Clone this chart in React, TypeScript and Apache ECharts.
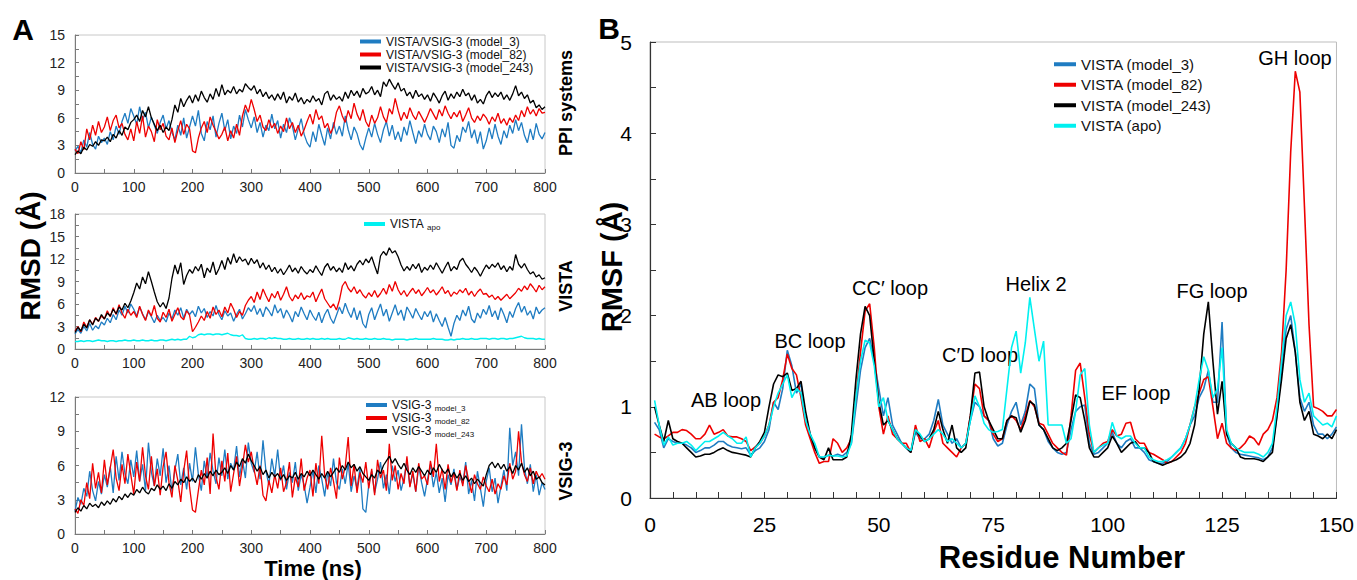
import React, { useEffect, useRef } from "react";
import * as echarts from "echarts";

// ---------- Panel A : RMSD time series (0..800 ns, every 5 ns) ----------
const TIME_NS = Array.from({ length: 161 }, (_, i) => i * 5);

// PPI systems
const ppiModel3 = [
  2.4, 2.9, 2.2, 3.6, 2.8, 4.4, 3.1, 2.6, 4.0, 3.3,
  3.8, 3.1, 4.5, 3.6, 5.1, 4.2, 5.6, 6.5, 5.4, 7.0,
  6.2, 5.3, 7.2, 5.8, 6.6, 4.9, 6.1, 5.2, 4.3, 5.5,
  6.3, 4.8, 5.7, 4.4, 3.6, 5.2, 4.1, 6.0, 3.8, 5.0,
  6.2, 5.1, 6.8, 4.3, 3.5, 5.6, 4.7, 6.2, 3.9, 5.4,
  6.5, 4.6, 5.8, 3.7, 5.1, 4.3, 6.3, 5.0, 6.9, 5.8,
  4.9, 6.1, 4.4, 5.5, 3.9, 5.2, 4.6, 6.4, 4.8, 5.7,
  3.8, 5.3, 4.4, 6.0, 5.1, 3.6, 4.8, 5.9, 4.2, 3.3,
  2.8, 4.5, 3.4, 5.3, 4.1, 3.0, 4.9, 3.7, 5.5, 4.2,
  5.1, 4.0, 6.2, 4.7, 3.6, 5.0, 4.3, 3.1, 2.5, 3.8,
  4.9, 3.9, 5.4, 4.2, 3.3, 4.7, 5.6, 4.0, 5.2, 3.6,
  4.5, 3.4, 5.0, 4.1, 5.7, 4.4, 3.2, 4.6, 3.9, 5.3,
  4.2, 3.6, 5.1, 4.5, 3.3, 4.8, 3.9, 5.5, 3.0, 2.7,
  4.1, 3.4, 5.0, 4.4, 5.6, 3.8, 4.7, 3.2, 4.5, 2.6,
  3.5, 4.9, 3.7, 5.3, 4.0, 3.1, 4.6, 3.8, 5.2, 4.3,
  5.8, 4.6, 5.5, 4.1, 3.3, 4.8, 3.6, 5.4, 4.2, 3.7,
  4.4,
];
const ppiModel82 = [
  2.6, 2.1, 3.4, 2.5, 4.8, 3.6, 5.2, 4.1, 5.6, 4.4,
  5.0, 6.1, 4.6, 5.7, 6.3, 4.9, 5.4, 4.2, 3.6, 4.8,
  3.5, 5.6, 4.3, 6.2, 3.9, 5.1, 4.5, 3.4, 5.8, 4.7,
  5.4, 4.0, 3.6, 4.9, 3.3, 4.6, 5.7, 4.2, 5.3, 4.8,
  2.4, 2.2, 3.8, 4.9, 5.6, 4.4, 6.1, 5.2, 4.5, 3.7,
  4.2, 5.0, 3.5, 4.6, 3.8, 5.3, 4.1, 6.2, 7.4, 6.6,
  8.0, 6.9, 5.6, 6.3, 5.0, 4.6, 5.8, 4.9, 5.4, 4.3,
  5.1, 4.5, 6.0, 4.8, 5.5, 4.4, 5.2, 4.0, 4.7, 5.6,
  6.4, 5.3, 6.9, 5.8, 6.2, 4.9, 5.4, 4.3, 5.0, 6.6,
  7.3, 6.2, 5.5, 6.8, 5.9, 7.6, 6.4, 5.7, 6.9, 5.6,
  5.0, 6.3, 5.4, 6.0, 7.2, 6.1, 5.5, 7.0, 6.4, 8.1,
  6.8, 5.7, 6.6, 5.9, 7.1, 6.3, 5.8, 6.7, 6.1, 5.5,
  6.2, 7.0, 6.4, 5.8, 6.9, 6.2, 7.3, 6.5, 5.9, 6.6,
  6.1, 6.8, 5.6, 6.3, 7.1, 6.0, 5.5, 6.2, 5.7, 6.4,
  6.0, 5.3, 6.1, 5.6, 6.5, 5.4, 5.9, 5.2, 6.0, 5.5,
  6.3, 5.7, 6.8, 6.1, 7.2, 6.4, 6.9, 6.2, 7.0, 6.5,
  6.6,
];
const ppiModel243 = [
  2.0, 2.4, 2.1, 2.8, 2.5, 3.1, 2.9, 3.4, 3.0, 3.6,
  3.5, 3.9, 3.4, 4.2, 3.8, 4.6, 4.1, 5.0, 4.7, 5.5,
  5.8, 6.3, 5.6, 6.8, 6.1, 7.2, 6.0, 5.3, 4.6, 5.2,
  4.4, 5.0, 4.6, 5.8, 7.4, 6.6, 8.1, 7.2, 7.9, 8.4,
  7.6, 8.5, 7.8, 8.9, 8.2, 7.7, 8.6, 8.0, 9.2, 8.3,
  9.6, 8.5, 9.0, 8.7, 9.4, 8.6, 9.1, 8.8, 9.7, 9.3,
  9.0, 9.5, 8.6, 9.1, 8.3, 8.8, 8.1, 8.5, 7.9, 8.6,
  8.0, 8.8, 7.6, 8.3, 7.9, 8.7, 7.7, 8.2, 7.5, 8.0,
  7.7, 8.4, 7.8, 8.1, 7.4, 8.6, 8.9, 7.9, 8.5, 8.0,
  8.3, 7.8, 8.8, 8.1, 9.0, 8.4, 8.9, 8.2, 9.2, 8.6,
  8.8, 9.4, 8.5, 9.0, 8.3, 9.9, 9.4, 10.2, 9.6, 9.1,
  9.8, 8.9, 9.2, 8.4, 8.8, 8.1, 9.0, 8.3, 8.6, 8.0,
  8.5, 7.8, 8.7, 8.2, 7.6, 8.4, 8.9, 7.9, 8.6, 8.1,
  8.8, 8.3, 9.1, 8.4, 8.7, 7.9, 8.5, 7.6, 8.0, 7.5,
  8.4, 8.9, 8.2, 8.7, 8.3, 8.8, 8.0, 8.5, 7.9, 8.6,
  9.5, 8.4, 8.8, 8.1, 8.5, 7.6, 7.9, 7.1, 7.4, 6.9,
  7.2,
];

// VISTA
const vistaModel3 = [
  2.0, 2.6, 2.1, 3.0, 2.4, 3.4, 2.5, 3.1, 2.7, 3.6,
  3.2, 4.1, 3.5, 4.6, 3.9, 5.2, 4.5, 5.7, 4.8, 6.0,
  5.3, 4.4, 5.6, 4.7, 3.9, 5.0, 4.3, 3.5, 4.5, 3.8,
  4.2, 3.6, 4.8, 4.0, 5.2, 4.5, 5.5, 4.1, 5.3, 4.6,
  5.1, 4.3, 5.7, 4.8, 5.4, 4.2, 5.0, 4.4, 5.8, 4.6,
  3.9, 5.1, 4.4, 4.8, 3.7, 4.6, 5.3, 4.0, 4.7, 5.5,
  5.0, 5.8, 4.6, 5.4, 4.3, 5.6, 5.1, 4.4, 5.9, 4.8,
  5.4, 4.1, 5.2, 4.5, 3.6, 5.0, 4.3, 5.6, 4.7, 3.9,
  5.2, 4.4, 3.8, 4.9, 3.5, 4.6, 5.3, 4.1, 3.4, 4.5,
  5.6, 4.7, 6.1, 5.0, 4.2, 5.5, 3.9, 5.1, 3.4, 2.8,
  4.6, 5.5, 3.9, 5.0, 6.0, 4.4, 5.3, 3.7, 4.8, 5.9,
  4.5, 5.2, 3.8, 5.6, 4.9, 4.1, 5.4, 4.6, 3.9, 5.0,
  4.3, 5.1, 3.6, 4.7, 3.8, 3.0, 4.2, 2.9, 1.7, 3.4,
  4.5, 3.8, 5.2, 4.4, 5.7, 4.0, 3.5, 4.8, 4.1, 5.3,
  4.6, 5.8, 4.3, 5.1, 3.9, 5.5, 4.6, 3.5, 5.0, 4.2,
  5.4, 6.2, 4.9, 5.7, 4.5, 5.1, 4.0, 5.6, 4.7, 5.2,
  5.5,
];
const vistaModel82 = [
  2.4, 3.0, 2.3, 3.6, 2.9, 3.9, 3.3, 4.2, 3.7, 4.4,
  4.0, 5.1, 4.3, 5.5, 4.6, 5.9, 4.8, 4.1, 5.3, 4.5,
  5.0, 4.2, 5.7, 4.6, 3.8, 5.2, 4.4, 5.8, 4.1, 3.6,
  4.9, 4.2, 5.3, 3.7, 4.6, 5.5, 4.3, 3.9, 5.1, 4.5,
  2.3, 2.9, 3.6, 4.4, 3.8, 5.0, 4.1, 5.6, 4.6, 5.2,
  4.3, 5.6, 4.8, 6.1, 5.3, 4.2, 5.0, 4.5, 5.8, 6.5,
  7.0, 6.2, 7.6, 6.6, 8.0, 7.1, 6.3, 7.4, 6.8, 7.7,
  6.5, 7.3, 8.3, 7.0, 6.4, 7.2, 6.7, 7.5, 6.6, 7.1,
  6.9, 7.6, 6.3, 7.2, 8.0, 6.7, 6.1, 5.5, 6.0, 5.2,
  6.5, 8.4, 9.0, 8.1, 7.6, 8.3, 7.4, 7.9, 7.2, 6.8,
  7.5, 7.0, 7.8, 6.9, 7.4, 8.1, 7.3, 8.6, 7.7, 9.0,
  7.9, 7.2, 7.8, 7.0, 7.6, 8.1, 7.4, 7.9, 7.1, 7.6,
  8.2, 7.5, 7.9, 7.2, 7.7, 8.3, 7.4, 7.8, 7.0, 7.6,
  7.3, 7.9, 7.5, 8.1, 7.2, 7.7, 7.0, 7.6, 8.0, 7.3,
  7.4, 6.9, 7.2, 6.6, 7.0, 6.5, 6.9, 7.3, 6.7, 7.1,
  7.5, 8.1, 7.7, 8.4, 7.9, 8.7, 8.2, 7.6, 8.5, 7.9,
  8.3,
];
const vistaModel243 = [
  2.2, 2.9, 2.4, 3.3, 2.8, 3.9, 3.2, 4.1, 3.7, 4.6,
  4.0, 4.8, 4.4, 5.3, 4.7, 5.6, 5.2, 6.1, 5.5, 6.4,
  7.5, 8.8, 8.0, 9.6, 8.7, 10.3, 9.0, 7.6, 6.3, 5.6,
  6.2, 5.4, 6.8, 9.4, 11.2, 10.0, 11.5, 8.6, 9.8, 10.6,
  10.1, 11.0, 10.4, 11.3, 9.5, 10.8, 10.2, 11.6, 9.9, 10.7,
  11.8, 10.6, 12.2, 11.3, 12.7, 11.5, 12.3, 11.7, 12.0, 11.2,
  12.1, 11.4, 11.9, 10.8, 11.5, 10.6, 11.2, 10.3, 10.9, 10.1,
  10.7, 9.9, 10.5, 11.2, 10.3, 10.8, 10.1, 11.0, 10.4, 10.0,
  10.6, 10.2, 11.1, 10.4, 9.8, 10.9, 11.4, 10.5, 11.0, 10.3,
  10.8, 10.2, 11.5, 10.6, 11.1, 10.4, 11.3, 11.8, 11.2, 12.0,
  11.5, 12.3, 11.1, 10.0, 12.4, 13.0, 12.5, 13.5, 12.8, 13.1,
  12.3, 11.2, 10.4, 11.0, 10.5, 11.3, 10.7, 11.4, 10.2, 10.9,
  10.5, 11.2, 10.6, 11.5, 10.8, 10.1, 10.9, 11.6, 10.4, 11.0,
  10.6, 11.7, 12.1, 11.3, 10.8, 10.2, 10.9, 10.4, 9.7, 10.5,
  11.2, 10.7, 11.3, 10.9, 11.5, 10.6, 11.1, 10.3, 11.0, 10.5,
  12.6, 11.3, 10.8, 11.4, 10.6, 10.0, 10.3, 9.6, 9.9, 9.3,
  9.5,
];
const vistaApo = [
  1.0, 1.0, 1.1, 1.0, 1.1, 1.1, 1.0, 1.1, 1.2, 1.1,
  1.1, 1.0, 1.1, 1.1, 1.0, 1.1, 1.1, 1.2, 1.1, 1.1,
  1.2, 1.1, 1.1, 1.2, 1.1, 1.1, 1.2, 1.1, 1.1, 1.2,
  1.2, 1.1, 1.2, 1.3, 1.2, 1.3, 1.2, 1.3, 1.3, 1.7,
  1.5, 1.6, 1.9, 2.0, 1.9, 2.0, 2.0, 1.9, 2.0, 2.0,
  1.9, 2.0, 2.1, 1.9, 1.8, 1.8, 1.7, 1.9, 1.4, 1.3,
  1.3, 1.4, 1.3, 1.4, 1.4, 1.3, 1.5, 1.4, 1.5, 1.4,
  1.4, 1.3, 1.3, 1.4, 1.3, 1.3, 1.4, 1.3, 1.3, 1.4,
  1.3, 1.4, 1.3, 1.3, 1.4, 1.3, 1.4, 1.3, 1.3, 1.3,
  1.4, 1.3, 1.3, 1.5, 1.4, 1.3, 1.4, 1.3, 1.3, 1.4,
  1.3, 1.3, 1.4, 1.3, 1.3, 1.4, 1.3, 1.3, 1.2, 1.3,
  1.3, 1.3, 1.3, 1.2, 1.3, 1.3, 1.4, 1.3, 1.3, 1.3,
  1.3, 1.3, 1.4, 1.3, 1.3, 1.3, 1.2, 1.2, 1.3, 1.2,
  1.3, 1.3, 1.4, 1.3, 1.3, 1.4, 1.3, 1.3, 1.4, 1.4,
  1.4, 1.3, 1.4, 1.4, 1.3, 1.4, 1.4, 1.3, 1.4, 1.4,
  1.5, 1.6, 1.7, 1.5, 1.4, 1.4, 1.4, 1.3, 1.4, 1.3,
  1.3,
];

// VSIG-3
const vsigModel3 = [
  2.0, 3.2, 2.6, 4.0, 3.3, 5.5, 3.8, 2.9, 4.6, 3.5,
  5.2, 4.1, 5.9, 3.6, 6.8, 4.7, 7.2, 5.3, 4.4, 6.5,
  5.0, 7.3, 4.6, 6.1, 3.8, 8.0, 5.4, 4.2, 6.6, 5.1,
  7.5, 4.5, 6.0, 3.7, 5.6, 7.0, 4.3, 5.8, 3.9, 6.2,
  4.6, 7.6, 5.2, 3.8, 6.4, 4.9, 7.1, 5.5, 4.4, 6.7,
  5.1, 7.4, 4.8, 6.2, 5.6, 7.7, 5.0, 6.5, 4.9, 8.0,
  6.2, 5.4, 7.2, 4.8, 8.2, 5.5, 4.3, 6.6, 5.1, 7.4,
  4.7, 6.0, 3.9, 5.4, 4.5, 6.3, 3.8, 5.2, 4.3, 2.7,
  4.1, 5.6, 3.6, 6.0, 4.8, 3.3, 5.4, 4.2, 6.6, 4.5,
  3.9, 5.7, 4.4, 6.2, 3.7, 5.1, 4.0, 5.8, 2.2, 1.9,
  4.3, 5.5, 3.6, 4.8, 6.3, 4.0, 5.2, 3.5, 6.0, 4.6,
  5.6, 3.8, 4.9, 6.4, 4.2, 5.3, 3.7, 5.9, 4.5, 3.3,
  4.8, 6.1, 4.1, 5.4, 3.6, 4.9, 2.8, 5.2, 4.3, 5.7,
  3.9, 5.0, 4.4, 6.3, 3.5, 4.7, 2.9, 5.5, 4.0, 2.4,
  4.6, 5.8, 3.7, 4.9, 2.7, 4.2, 5.6, 3.8, 9.3, 6.0,
  7.2, 5.1, 9.6, 5.8, 4.4, 6.1, 3.7, 5.2, 3.4, 4.5,
  3.9,
];
const vsigModel82 = [
  2.2, 1.8, 3.0, 2.5, 4.5, 3.1, 6.2, 4.0, 5.4, 3.6,
  6.5, 4.3, 5.8, 7.4, 4.9, 3.8, 6.1, 4.4, 7.0, 5.2,
  3.5, 6.3, 4.6, 7.6, 5.1, 3.9, 6.8, 4.2, 5.7, 3.4,
  5.9, 7.2, 4.5, 3.2, 6.0, 4.7, 2.8, 5.5, 7.3, 4.1,
  2.1, 1.9, 3.8, 5.6, 4.3, 6.7, 3.5, 8.8, 5.0, 3.9,
  6.4, 4.6, 7.1, 3.7, 5.3, 6.8, 4.2, 5.9, 7.8, 6.3,
  7.2, 5.6, 4.3, 6.0, 3.4, 2.9, 4.7, 3.6, 5.2, 4.0,
  5.8, 3.7, 4.5, 6.3, 3.2, 5.0, 4.1, 6.6, 3.8, 4.9,
  5.6, 3.3, 6.2, 4.4, 8.6, 5.1, 3.9, 5.8, 4.6, 3.1,
  6.7, 4.8, 5.9, 8.5, 4.2, 6.1, 3.6, 5.4, 4.5, 6.3,
  4.0, 5.7, 3.4, 6.5, 4.9, 5.6, 3.8, 7.9, 4.7, 6.0,
  3.9, 5.3, 4.4, 6.8, 4.1, 5.5, 3.7, 6.2, 4.8, 5.1,
  4.3, 6.4, 5.0, 7.9, 4.6, 5.7, 3.9, 6.1, 4.5, 5.3,
  3.8, 5.6, 4.2, 6.0, 4.7, 3.6, 5.2, 4.4, 3.9, 5.0,
  4.2, 3.7, 4.8, 3.5, 4.4, 3.9, 5.1, 4.3, 6.2, 4.8,
  5.5, 9.0, 6.3, 5.2, 4.6, 5.8, 4.4, 5.5, 4.9, 5.3,
  4.8,
];
const vsigModel243 = [
  1.9, 2.3, 2.0, 2.5, 2.2, 2.7, 2.4, 2.6, 2.3, 2.8,
  2.5, 2.9, 2.6, 3.1, 2.8, 3.3, 3.0, 3.5, 3.2, 3.6,
  3.4, 3.9, 3.6, 4.1, 3.7, 3.5, 4.0, 3.8, 4.3, 3.9,
  4.2, 3.8, 4.4, 4.0, 4.6, 4.3, 4.8, 4.5, 5.0, 4.6,
  4.9, 4.5, 5.2, 4.8, 5.3, 4.9, 5.5, 5.1, 5.6, 5.2,
  5.4, 5.8, 5.3, 6.0, 5.6, 6.3, 5.9, 6.6, 6.2, 7.0,
  6.4, 6.0, 5.5, 5.9, 5.2, 5.6, 4.9, 5.4, 5.0, 5.3,
  4.8, 5.2, 4.7, 5.1, 4.9, 5.4, 4.8, 5.3, 5.0, 5.5,
  5.1, 5.6, 5.2, 4.8, 5.3, 4.9, 5.5, 5.0, 5.4, 5.8,
  5.4, 6.0, 5.6, 6.3, 5.8, 6.1, 5.5, 5.9, 5.3, 5.0,
  4.7, 5.2, 4.9, 5.6, 5.3, 6.0, 6.4, 6.8, 6.2, 6.6,
  6.1, 5.7, 6.2, 5.6, 5.2, 5.8, 5.4, 5.9, 5.5, 5.1,
  5.6, 5.2, 5.8, 5.4, 6.1, 5.6, 5.3, 5.7, 5.0, 5.4,
  4.9, 5.3, 4.7, 5.1, 4.6, 4.9, 4.4, 4.8, 4.5, 4.2,
  5.2, 6.0, 6.3, 5.8, 6.2, 5.7, 6.1, 5.5, 5.9, 5.3,
  6.0, 5.6, 6.2, 5.4, 5.8, 5.1, 5.5, 4.8, 5.0, 4.5,
  4.3,
];

// ---------- Panel B : RMSF per residue (1..150) ----------
const RESIDUES = Array.from({ length: 150 }, (_, i) => i + 1);
const rmsfModel3 = [
  0.83, 0.75, 0.55, 0.65, 0.62, 0.6, 0.6, 0.58, 0.55, 0.5,
  0.52, 0.55, 0.55, 0.58, 0.62, 0.62, 0.58, 0.56, 0.55, 0.54,
  0.55, 0.47, 0.52, 0.55, 0.62, 0.75, 1.05, 0.97, 1.2, 1.62,
  1.45, 1.15, 1.25, 0.85, 0.7, 0.55, 0.45, 0.44, 0.47, 0.46,
  0.48, 0.46, 0.5, 0.6, 1.0, 1.4, 1.65, 1.75, 1.5, 1.2,
  0.9, 1.1, 0.8, 0.7, 0.6, 0.55, 0.5, 0.72, 0.65, 0.65,
  0.7, 0.85, 1.08, 0.8, 0.7, 0.6, 0.65, 0.55, 0.6, 0.85,
  1.05, 1.0, 0.9, 0.85, 0.65, 0.57, 0.6, 0.8, 0.95, 1.05,
  0.8, 0.95, 1.25, 1.2, 0.8, 0.75, 0.62, 0.55, 0.5, 0.48,
  0.5, 0.75, 0.95, 1.0, 1.02, 0.6, 0.48, 0.5, 0.55, 0.6,
  0.72, 0.6, 0.55, 0.62, 0.65, 0.55, 0.55, 0.5, 0.42, 0.4,
  0.38, 0.38, 0.4, 0.45, 0.5, 0.55, 0.65, 0.8, 0.9, 1.1,
  1.2, 1.4, 1.05, 1.05, 1.93, 0.7, 0.55, 0.5, 0.48, 0.47,
  0.46, 0.45, 0.44, 0.42, 0.45, 0.55, 0.9, 1.4, 1.85, 2.0,
  1.6, 1.1, 0.95, 1.05, 0.8, 0.7, 0.7, 0.65, 0.7, 0.78,
];
const rmsfModel82 = [
  0.7, 0.67, 0.65, 0.68, 0.72, 0.72, 0.75, 0.74, 0.7, 0.65,
  0.65, 0.7, 0.8, 0.7, 0.72, 0.75, 0.68, 0.67, 0.67, 0.65,
  0.62, 0.52, 0.56, 0.6, 0.68, 0.8, 1.05, 1.1, 1.3, 1.58,
  1.42, 1.35, 1.1, 0.8, 0.65, 0.5, 0.38, 0.4, 0.4, 0.65,
  0.6, 0.5, 0.55, 0.65, 1.1, 1.6, 2.05, 2.13, 1.65, 1.0,
  0.7, 0.9, 0.7, 0.65, 0.6, 0.6, 0.5, 0.8, 0.62, 0.65,
  0.55, 0.72, 0.85, 0.6, 0.55, 0.5, 0.45, 0.55, 0.6, 0.9,
  1.25, 1.2, 0.9, 0.85, 0.7, 0.62, 0.65, 0.85, 0.9, 0.85,
  0.75, 0.9, 1.07, 1.0, 0.82, 0.8, 0.7, 0.6, 0.55, 0.5,
  0.47, 0.9, 1.4, 1.48, 1.1, 0.7, 0.5, 0.55, 0.6, 0.62,
  0.75, 0.68, 0.7, 0.82, 0.83, 0.65, 0.6, 0.6, 0.5, 0.48,
  0.45, 0.42, 0.38, 0.4, 0.45, 0.5, 0.6, 0.8, 1.0, 1.15,
  1.3, 1.33, 1.0, 0.65, 0.82, 0.6, 0.55, 0.52, 0.55, 0.6,
  0.68, 0.65, 0.58, 0.7, 0.75, 0.85, 1.1, 1.6, 2.5, 3.8,
  4.68, 4.45, 3.2, 1.9, 1.0, 0.98, 0.95, 0.9, 0.9, 0.97,
];
const rmsfModel243 = [
  1.0, 0.8, 0.62, 0.85, 0.65, 0.62, 0.6, 0.55, 0.5, 0.45,
  0.46, 0.48, 0.48, 0.5, 0.53, 0.55, 0.52, 0.5, 0.49, 0.48,
  0.47, 0.45, 0.55, 0.62, 0.72, 1.0, 1.25, 1.35, 1.33, 1.37,
  1.18, 1.2, 1.28, 0.95, 0.7, 0.55, 0.45, 0.42, 0.55, 0.42,
  0.42, 0.42, 0.45, 0.7, 1.3, 1.8, 2.1, 2.0, 1.5, 1.05,
  0.8, 0.85, 0.75, 0.65, 0.6, 0.55, 0.5, 0.75, 0.68, 0.62,
  0.65, 0.75, 0.95, 0.75, 0.6, 0.8, 0.55, 0.5, 0.55, 0.9,
  1.37, 1.38, 1.0, 0.85, 0.75, 0.65, 0.65, 0.85, 0.9, 0.88,
  0.72, 0.85, 1.06, 1.02, 0.8, 0.75, 0.65, 0.55, 0.52, 0.55,
  0.6, 0.85, 1.13, 1.1, 0.85, 0.55, 0.45, 0.45, 0.5, 0.55,
  0.68, 0.6, 0.5, 0.55, 0.6, 0.62, 0.55, 0.55, 0.5, 0.4,
  0.38, 0.36, 0.38, 0.4, 0.42, 0.45, 0.5, 0.6, 0.8, 1.2,
  1.8, 2.15, 1.5, 0.92, 1.28, 0.7, 0.6, 0.55, 0.45, 0.43,
  0.43, 0.43, 0.42, 0.4, 0.45, 0.5, 0.9, 1.3, 1.75, 1.9,
  1.6, 1.05, 0.85, 0.95, 0.7, 0.68, 0.65, 0.7, 0.65, 0.75,
];
const rmsfApo = [
  1.07, 0.8, 0.58, 0.67, 0.58, 0.6, 0.6, 0.62, 0.58, 0.52,
  0.57, 0.62, 0.62, 0.65, 0.68, 0.72, 0.68, 0.65, 0.6, 0.6,
  0.67, 0.45, 0.55, 0.6, 0.68, 0.8, 1.0, 1.15, 1.25, 1.35,
  1.1, 1.2, 1.15, 0.85, 0.7, 0.6, 0.45, 0.45, 0.47, 0.46,
  0.46, 0.45, 0.46, 0.6, 1.1, 1.5, 1.73, 1.7, 1.45, 1.0,
  1.1, 0.85, 0.75, 0.65, 0.6, 0.55, 0.52, 0.75, 0.7, 0.62,
  0.65, 0.7, 0.75, 0.7, 0.62, 0.65, 0.6, 0.55, 0.6, 0.85,
  1.12, 1.0, 0.82, 0.75, 0.72, 0.73, 0.75, 1.2, 1.65, 1.83,
  1.37, 1.7, 2.2, 1.85, 1.5, 1.72, 0.8, 0.8, 0.8, 0.8,
  0.6, 0.65, 0.95, 1.35, 1.42, 0.8, 0.5, 0.55, 0.58, 0.6,
  0.83, 0.68, 0.65, 0.68, 0.68, 0.6, 0.55, 0.55, 0.45, 0.42,
  0.4, 0.4, 0.42, 0.45, 0.5, 0.55, 0.65, 0.8, 1.0, 1.3,
  1.55, 1.4, 1.1, 1.2, 1.65, 0.75, 0.6, 0.55, 0.52, 0.5,
  0.5, 0.5, 0.48, 0.45, 0.5, 0.6, 1.0, 1.5, 2.0, 2.15,
  1.9, 1.3, 1.05, 1.15, 0.9, 0.85, 0.8, 0.82, 0.78, 0.9,
];

const LOOP_LABELS = ["AB loop", "BC loop", "CC\u2032 loop", "C\u2032D loop", "Helix 2", "EF loop", "FG loop", "GH loop"];
const PANEL_TITLES = ["PPI systems", "VISTA", "VSIG-3"];

const BLUE = "#1f7cc2";
const RED = "#ee0000";
const BLACK = "#000000";
const CYAN = "#00f0f0";
const FONT = "'Liberation Sans', Arial, Helvetica, sans-serif";

const pairs = (xs: number[], ys: number[]) => ys.map((v, i) => [xs[i], v]);

function aAxes(gi: number, ymax: number) {
  const x = {
    type: "value", gridIndex: gi, min: 0, max: 800, interval: 100,
    axisLine: { show: true, lineStyle: { color: "#7a7a7a", width: 1 } },
    axisTick: { show: true, inside: true, length: 4, lineStyle: { color: "#7a7a7a" } },
    minorTick: { show: true, splitNumber: 2, length: 4, lineStyle: { color: "#7a7a7a" } },
    splitLine: { show: false },
    axisLabel: { fontSize: 14, color: "#222", margin: 7, fontFamily: FONT },
  };
  const y = {
    type: "value", gridIndex: gi, min: 0, max: ymax, interval: 3,
    axisLine: { show: true, lineStyle: { color: "#7a7a7a", width: 1 } },
    axisTick: { show: true, inside: true, length: 4, lineStyle: { color: "#7a7a7a" } },
    minorTick: { show: true, splitNumber: 2, length: 4, lineStyle: { color: "#7a7a7a" } },
    splitLine: { show: false },
    axisLabel: { fontSize: 14, color: "#222", margin: 10, fontFamily: FONT },
  };
  return { x, y };
}

function lineA(name: string, gi: number, data: number[], color: string, z: number) {
  return {
    type: "line", name, xAxisIndex: gi, yAxisIndex: gi,
    data: pairs(TIME_NS, data), showSymbol: false, symbol: "none",
    color, lineStyle: { color, width: 1.3 }, z, silent: true,
  };
}
function lineB(name: string, data: number[], color: string, z: number) {
  return {
    type: "line", name, xAxisIndex: 3, yAxisIndex: 3,
    data: pairs(RESIDUES, data), showSymbol: false, symbol: "none",
    color, lineStyle: { color, width: 1.6 }, z, silent: true,
  };
}

function txt(text: string, x: number, y: number, font: string, rotation = 0) {
  return {
    type: "text", x, y, rotation, silent: true,
    style: {
      text, font, fill: "#000",
      textAlign: "center", textVerticalAlign: "middle",
      align: "center", verticalAlign: "middle",
    },
  };
}

export default function App() {
  const ref = useRef<HTMLDivElement>(null);
  useEffect(() => {
    if (!ref.current) return;
    const chart = echarts.init(ref.current, null, { renderer: "svg" });
    const a0 = aAxes(0, 15);
    const a1 = aAxes(1, 18);
    const a2 = aAxes(2, 12);
    const subRich = {
      m: { fontSize: 12, lineHeight: 14, fontFamily: FONT, color: "#111" },
      s: { fontSize: 8, lineHeight: 6, verticalAlign: "bottom", fontFamily: FONT, color: "#111" },
    };
    const subFmt = (name: string) => {
      const p = name.split(" ");
      return `{m|${p[0]}} {s|${p[1]}}`;
    };
    const legendBase = {
      orient: "vertical", icon: "rect", itemWidth: 21, itemHeight: 4, itemGap: 0,
      selectedMode: false, padding: 0,
    };
    const ann = "20px " + FONT;
    const option: any = {
      animation: false,
      backgroundColor: "#ffffff",
      grid: [
        { left: 75, top: 35, width: 470, height: 138, show: true, borderColor: "#c8c8c8", borderWidth: 1 },
        { left: 75, top: 214, width: 470, height: 135, show: true, borderColor: "#c8c8c8", borderWidth: 1 },
        { left: 75, top: 397, width: 470, height: 137, show: true, borderColor: "#c8c8c8", borderWidth: 1 },
        { left: 650, top: 42, width: 687, height: 456, show: true, borderColor: "#bdbdbd", borderWidth: 1 },
      ],
      xAxis: [
        a0.x, a1.x, a2.x,
        {
          type: "value", gridIndex: 3, min: 0, max: 150, interval: 25,
          axisLine: { show: true, lineStyle: { color: "#333", width: 1.2 } },
          axisTick: { show: true, inside: true, length: 6, lineStyle: { color: "#333" } },
          minorTick: { show: true, splitNumber: 5, length: 6, lineStyle: { color: "#333" } },
          splitLine: { show: false },
          axisLabel: { fontSize: 21, color: "#000", margin: 16, fontFamily: FONT },
        },
      ],
      yAxis: [
        a0.y, a1.y, a2.y,
        {
          type: "value", gridIndex: 3, min: 0, max: 5, interval: 1,
          axisLine: { show: true, lineStyle: { color: "#333", width: 1.2 } },
          axisTick: { show: true, inside: true, length: 6, lineStyle: { color: "#333" } },
          minorTick: { show: true, splitNumber: 2, length: 6, lineStyle: { color: "#333" } },
          splitLine: { show: false },
          axisLabel: { fontSize: 21, color: "#000", margin: 18, fontFamily: FONT },
        },
      ],
      legend: [
        {
          ...legendBase, left: 360, top: 35,
          data: ["VISTA/VSIG-3 (model_3)", "VISTA/VSIG-3 (model_82)", "VISTA/VSIG-3 (model_243)"],
          textStyle: { fontSize: 12, lineHeight: 13, color: "#111", fontFamily: FONT },
        },
        {
          ...legendBase, left: 364, top: 218,
          data: ["VISTA apo"], formatter: subFmt,
          textStyle: { rich: subRich },
        },
        {
          ...legendBase, left: 366, top: 399,
          data: ["VSIG-3 model_3", "VSIG-3 model_82", "VSIG-3 model_243"], formatter: subFmt,
          textStyle: { rich: subRich },
        },
        {
          ...legendBase, left: 1054, top: 54, itemWidth: 22,
          data: ["VISTA (model_3)", "VISTA (model_82)", "VISTA (model_243)", "VISTA (apo)"],
          textStyle: { fontSize: 15, lineHeight: 20.5, color: "#111", fontFamily: FONT },
        },
      ],
      series: [
        lineA("VISTA/VSIG-3 (model_3)", 0, ppiModel3, BLUE, 2),
        lineA("VISTA/VSIG-3 (model_82)", 0, ppiModel82, RED, 3),
        lineA("VISTA/VSIG-3 (model_243)", 0, ppiModel243, BLACK, 4),
        lineA("VISTA RMSD model_3", 1, vistaModel3, BLUE, 2),
        lineA("VISTA RMSD model_82", 1, vistaModel82, RED, 3),
        lineA("VISTA RMSD model_243", 1, vistaModel243, BLACK, 4),
        lineA("VISTA apo", 1, vistaApo, CYAN, 5),
        lineA("VSIG-3 model_3", 2, vsigModel3, BLUE, 2),
        lineA("VSIG-3 model_82", 2, vsigModel82, RED, 3),
        lineA("VSIG-3 model_243", 2, vsigModel243, BLACK, 4),
        lineB("VISTA (model_3)", rmsfModel3, BLUE, 2),
        lineB("VISTA (model_82)", rmsfModel82, RED, 3),
        lineB("VISTA (model_243)", rmsfModel243, BLACK, 4),
        lineB("VISTA (apo)", rmsfApo, CYAN, 5),
      ],
      graphic: [
        txt("A", 23, 29, "bold 30px " + FONT),
        txt("B", 609, 28, "bold 30px " + FONT),
        txt("RMSD (\u00c5)", 30, 256, "bold 28px " + FONT, Math.PI / 2),
        txt("RMSF (\u00c5)", 612, 267, "bold 29px " + FONT, Math.PI / 2),
        txt("Time (ns)", 313, 568, "bold 22px " + FONT),
        txt("Residue Number", 1062, 557, "bold 31px " + FONT),
        txt(PANEL_TITLES[0], 566, 103, "bold 18px " + FONT, Math.PI / 2),
        txt(PANEL_TITLES[1], 566, 286, "bold 18px " + FONT, Math.PI / 2),
        txt(PANEL_TITLES[2], 566, 471, "bold 18px " + FONT, Math.PI / 2),
        txt(LOOP_LABELS[0], 726, 400, ann),
        txt(LOOP_LABELS[1], 810, 341, ann),
        txt(LOOP_LABELS[2], 890, 288, ann),
        txt(LOOP_LABELS[3], 980, 355, ann),
        txt(LOOP_LABELS[4], 1036, 284, ann),
        txt(LOOP_LABELS[5], 1136, 393, ann),
        txt(LOOP_LABELS[6], 1212, 291, ann),
        txt(LOOP_LABELS[7], 1295, 58, ann),
      ],
    };
    chart.setOption(option);
    return () => chart.dispose();
  }, []);
  return (
    <div
      ref={ref}
      style={{ position: "absolute", left: 0, top: 0, width: 1357, height: 580, background: "#fff" }}
    />
  );
}
